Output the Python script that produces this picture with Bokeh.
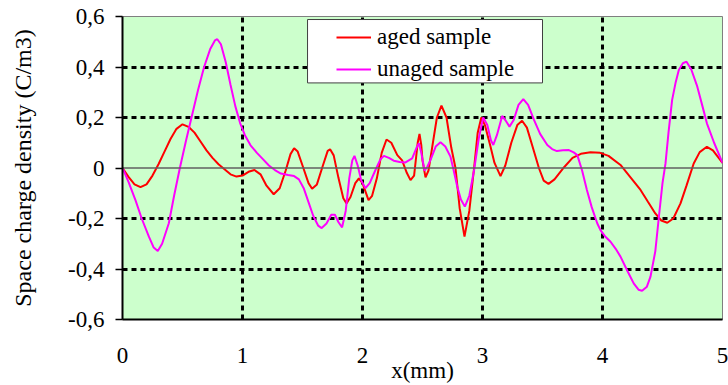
from bokeh.plotting import figure
from bokeh.models import (FixedTicker, Span, BoxAnnotation, Legend, LegendItem,
                          Range1d, CustomJSTickFormatter)
from bokeh.embed import file_html
from bokeh.resources import INLINE

# ---------------- data ----------------
aged_x = [0.00, 0.05, 0.10, 0.15, 0.20, 0.25, 0.30, 0.35, 0.40, 0.45, 0.50, 0.55,
          0.60, 0.65, 0.70, 0.75, 0.80, 0.85, 0.90, 0.95, 1.00, 1.05, 1.10, 1.15,
          1.20, 1.26, 1.31, 1.36, 1.40, 1.43, 1.46, 1.50, 1.55, 1.58, 1.62, 1.67,
          1.71, 1.73, 1.76, 1.80, 1.84, 1.867, 1.90, 1.94, 1.97, 2.00, 2.05, 2.08,
          2.12, 2.16, 2.20, 2.24, 2.29, 2.33, 2.37, 2.40, 2.43, 2.46, 2.475, 2.49,
          2.50, 2.525, 2.55, 2.58, 2.62, 2.658, 2.70, 2.74, 2.775, 2.81, 2.85, 2.89,
          2.93, 2.96, 2.99, 3.02, 3.067, 3.10, 3.15, 3.19, 3.24, 3.29, 3.33, 3.37,
          3.42, 3.47, 3.51, 3.55, 3.60, 3.68, 3.75, 3.82, 3.90, 3.98, 4.05, 4.15,
          4.23, 4.317, 4.38, 4.44, 4.49, 4.54, 4.59, 4.65, 4.70, 4.76, 4.81, 4.87,
          4.92, 4.96, 5.00]
aged_y = [0.000, -0.035, -0.065, -0.076, -0.065, -0.030, 0.015, 0.065, 0.115, 0.155, 0.173, 0.163,
          0.140, 0.105, 0.070, 0.040, 0.015, -0.005, -0.025, -0.034, -0.030, -0.015, -0.008, -0.025,
          -0.070, -0.104, -0.080, -0.010, 0.055, 0.078, 0.065, 0.010, -0.060, -0.082, -0.065, 0.010,
          0.068, 0.074, 0.050, -0.040, -0.120, -0.140, -0.115, -0.060, -0.041, -0.060, -0.127, -0.110,
          -0.040, 0.060, 0.113, 0.100, 0.051, 0.030, -0.020, -0.048, -0.030, 0.100, 0.135, 0.090,
          0.030, -0.037, -0.010, 0.080, 0.200, 0.247, 0.200, 0.080, 0.000, -0.160, -0.272, -0.170,
          0.000, 0.140, 0.200, 0.170, 0.084, 0.020, -0.032, 0.010, 0.100, 0.170, 0.187, 0.160,
          0.080, 0.000, -0.050, -0.063, -0.045, 0.003, 0.040, 0.056, 0.062, 0.060, 0.048, 0.012,
          -0.035, -0.087, -0.135, -0.180, -0.208, -0.217, -0.200, -0.140, -0.070, 0.018, 0.063, 0.084,
          0.070, 0.045, 0.020]

unaged_x = [0.00, 0.05, 0.108, 0.16, 0.22, 0.26, 0.294, 0.33, 0.386, 0.43, 0.478, 0.53,
            0.58, 0.63, 0.68, 0.73, 0.77, 0.79, 0.82, 0.86, 0.90, 0.94, 0.98, 1.02,
            1.067, 1.12, 1.17, 1.22, 1.27, 1.32, 1.38, 1.43, 1.47, 1.51, 1.55, 1.59,
            1.63, 1.66, 1.70, 1.74, 1.77, 1.80, 1.83, 1.86, 1.89, 1.915, 1.933, 1.96,
            1.99, 2.025, 2.06, 2.108, 2.15, 2.178, 2.22, 2.26, 2.31, 2.358, 2.414, 2.45,
            2.47, 2.49, 2.517, 2.54, 2.567, 2.61, 2.65, 2.69, 2.733, 2.76, 2.79, 2.82,
            2.853, 2.89, 2.93, 2.97, 3.006, 3.04, 3.07, 3.09, 3.12, 3.164, 3.19, 3.225,
            3.26, 3.30, 3.34, 3.38, 3.43, 3.48, 3.54, 3.58, 3.62, 3.67, 3.72, 3.76,
            3.79, 3.83, 3.87, 3.91, 3.956, 3.983, 4.02, 4.067, 4.11, 4.15, 4.21, 4.26,
            4.30, 4.33, 4.37, 4.40, 4.44, 4.47, 4.50, 4.525, 4.55, 4.58, 4.61, 4.636,
            4.67, 4.70, 4.74, 4.79, 4.83, 4.87, 4.93, 5.00]
unaged_y = [0.000, -0.055, -0.127, -0.200, -0.272, -0.315, -0.329, -0.300, -0.219, -0.110, 0.000, 0.110,
            0.210, 0.310, 0.400, 0.470, 0.505, 0.510, 0.490, 0.420, 0.330, 0.245, 0.178, 0.130,
            0.090, 0.060, 0.035, 0.010, -0.008, -0.022, -0.028, -0.032, -0.045, -0.080, -0.135, -0.190,
            -0.228, -0.238, -0.220, -0.185, -0.185, -0.215, -0.235, -0.170, -0.040, 0.030, 0.048, 0.010,
            -0.050, -0.080, -0.060, -0.008, 0.035, 0.048, 0.040, 0.029, 0.024, 0.022, 0.038, 0.080,
            0.098, 0.060, -0.011, 0.005, 0.032, 0.085, 0.102, 0.085, 0.045, -0.010, -0.074, -0.125,
            -0.153, -0.110, -0.008, 0.120, 0.200, 0.170, 0.110, 0.091, 0.130, 0.206, 0.190, 0.164,
            0.190, 0.250, 0.273, 0.250, 0.190, 0.135, 0.091, 0.075, 0.067, 0.070, 0.071, 0.062,
            0.051, -0.010, -0.087, -0.155, -0.219, -0.246, -0.270, -0.292, -0.320, -0.351, -0.410, -0.457,
            -0.482, -0.486, -0.470, -0.430, -0.330, -0.193, -0.060, 0.018, 0.140, 0.269, 0.340, 0.388,
            0.415, 0.421, 0.390, 0.322, 0.250, 0.177, 0.100, 0.020]

x_ticks = [0, 1, 2, 3, 4, 5]
y_ticks = [-0.6, -0.4, -0.2, 0, 0.2, 0.4, 0.6]
series_labels = ["aged sample", "unaged sample"]
x_title = "x(mm)"
y_title = "Space charge density (C/m3)"

# ---------------- figure ----------------
FONT = "'Liberation Serif'"

p = figure(width=728, height=385,
           x_range=Range1d(0, 5), y_range=Range1d(-0.6, 0.6),
           output_backend="svg", toolbar_location=None,
           min_border_left=122, min_border_right=6,
           min_border_top=16, min_border_bottom=66,
           background_fill_color="#CCFFCC", border_fill_color="white",
           outline_line_color="#7f7f7f", outline_line_width=1)

# grids: thick black dotted lines
p.xgrid.ticker = FixedTicker(ticks=x_ticks)
p.ygrid.ticker = FixedTicker(ticks=[t for t in y_ticks if t != 0])
for g in (p.xgrid, p.ygrid):
    g.grid_line_color = "black"
    g.grid_line_width = 3
    g.grid_line_dash = "5 4"
    g.grid_line_alpha = 1.0

# x axis
xa = p.xaxis[0]
xa.ticker = FixedTicker(ticks=x_ticks)
xa.axis_line_color = "black"
xa.axis_line_width = 2
xa.major_tick_out = 0
xa.major_tick_in = 0
xa.minor_tick_out = 0
xa.minor_tick_in = 0
xa.major_label_standoff = 28
xa.major_label_text_font = FONT
xa.major_label_text_font_size = "23px"
xa.major_label_text_color = "black"
xa.axis_label = x_title
xa.axis_label_text_font = FONT
xa.axis_label_text_font_size = "23px"
xa.axis_label_text_font_style = "normal"
xa.axis_label_text_color = "black"
xa.axis_label_standoff = -8

# y axis
ya = p.yaxis[0]
ya.ticker = FixedTicker(ticks=y_ticks)
ya.formatter = CustomJSTickFormatter(
    code="return Math.abs(tick) < 1e-9 ? '0' : tick.toFixed(1).replace('.', ',');")
ya.axis_line_color = "black"
ya.axis_line_width = 2
ya.major_tick_out = 7
ya.major_tick_in = 0
ya.major_tick_line_width = 1.5
ya.major_tick_line_color = "black"
ya.minor_tick_out = 0
ya.minor_tick_in = 0
ya.major_label_standoff = 11
ya.major_label_text_font = FONT
ya.major_label_text_font_size = "23px"
ya.major_label_text_color = "black"
ya.axis_label = y_title
ya.axis_label_text_font = FONT
ya.axis_label_text_font_size = "24px"
ya.axis_label_text_font_style = "normal"
ya.axis_label_text_color = "black"
ya.axis_label_standoff = 29

# zero line
p.add_layout(Span(location=0, dimension="width", line_color="#606060",
                  line_width=1.5, level="glyph"))

# curves
r_aged = p.line(aged_x, aged_y, line_color="#FF0000", line_width=2)
r_unaged = p.line(unaged_x, unaged_y, line_color="#FF00FF", line_width=2)

# legend frame + legend
p.add_layout(BoxAnnotation(left=1.542, right=3.5, bottom=0.337, top=0.588,
                           fill_color="white", fill_alpha=1.0,
                           line_color="#404040", line_width=1, line_alpha=1.0))
legend = Legend(items=[LegendItem(label=series_labels[0], renderers=[r_aged]),
                       LegendItem(label=series_labels[1], renderers=[r_unaged])],
                location=(214, 236), padding=0, margin=0, spacing=4,
                glyph_width=35, glyph_height=28, label_height=28,
                label_standoff=6, background_fill_alpha=0, border_line_alpha=0,
                label_text_font=FONT, label_text_font_size="23px",
                label_text_color="black")
p.add_layout(legend)

open("out.html", "w").write(file_html(p, INLINE, title="Space charge density"))
